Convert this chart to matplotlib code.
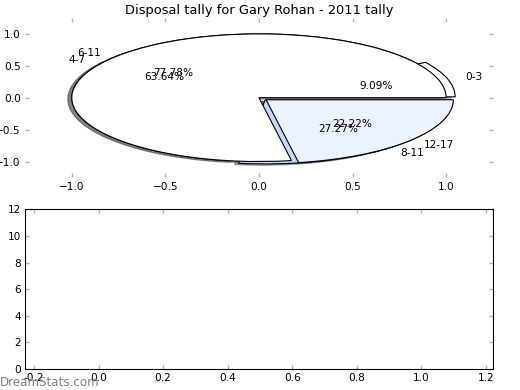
import numpy as np
import matplotlib
matplotlib.use("Agg")
import matplotlib.pyplot as plt

# First pie: disposal ranges
labels_a = ["0-3", "4-7", "8-11"]
values_a = [1, 7, 3]
explode_a = [0.05, 0.0, 0.05]
colors_a = ["#ffffff", "#ffffff", "#c6d8fc"]

# Second pie: drawn on top of the first one
labels_b = ["6-11", "12-17"]
values_b = [7, 2]
explode_b = [0.0, 0.05]
colors_b = ["#ffffff", "#ecf2ff"]

pie_ticks = [-1.0, -0.5, 0.0, 0.5, 1.0]
bottom_xticks = [-0.2, 0.0, 0.2, 0.4, 0.6, 0.8, 1.0, 1.2]
bottom_yticks = [0, 2, 4, 6, 8, 10, 12]

FS = 7.6


def style_ticks(ax):
    """
    Old-style small grey ticks on every side.
    """
    ax.tick_params(direction="in", length=3, width=1, color="0.7",
                   top=True, right=True, labelsize=FS, pad=3)


def draw_pies(ax):
    """
    Two overlapping pies on an axes with unequal aspect.
    """
    wp = {"edgecolor": "black", "linewidth": 0.8}
    tp = {"fontsize": FS}
    sh = {"ox": -0.015, "oy": -0.015, "shade": 0.65}
    ax.pie(values_a, labels=labels_a, explode=explode_a, colors=colors_a,
           autopct="%.2f%%", shadow=sh, wedgeprops=wp, textprops=tp)
    ax.pie(values_b, labels=labels_b, explode=explode_b, colors=colors_b,
           autopct="%.2f%%", shadow=sh, wedgeprops=wp, textprops=tp)
    ax.set_aspect("auto")
    ax.set_xlim(-1.25, 1.25)
    ax.set_ylim(-1.25, 1.25)
    ax.set_xticks(pie_ticks)
    ax.set_yticks(pie_ticks)
    ax.set_frame_on(False)
    style_ticks(ax)
    ax.set_title("Disposal tally for Gary Rohan - 2011 tally", fontsize=9.4, pad=3)


def draw_empty(ax):
    """
    Empty lower panel.
    """
    ax.set_xlim(-0.228, 1.222)
    ax.set_ylim(0, 12)
    ax.set_xticks(bottom_xticks)
    ax.set_yticks(bottom_yticks)
    ax.set_xticklabels(["%.1f" % t for t in bottom_xticks])
    for s in ax.spines.values():
        s.set_linewidth(0.8)
    style_ticks(ax)


if __name__ == "__main__":
    fig, (ax1, ax2) = plt.subplots(2, 1, figsize=(5.2, 3.9), dpi=100)
    fig.subplots_adjust(left=0.048, right=0.948, top=0.954, bottom=0.054, hspace=0.2)

    draw_pies(ax1)
    draw_empty(ax2)

    fig.text(0.0, 0.01, "DreamStats.com", color="0.5", fontsize=8.6)

    fig.savefig("out.png", dpi=100)
